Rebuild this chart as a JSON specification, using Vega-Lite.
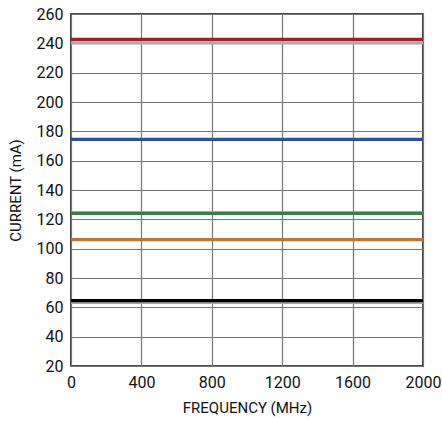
{
  "$schema": "https://vega.github.io/schema/vega-lite/v6.json",
  "width": 352,
  "height": 352,
  "autosize": {"type": "none"},
  "padding": {"left": 71, "top": 14, "right": 19, "bottom": 55},
  "background": "white",
  "config": {
    "view": {"stroke": "#111", "strokeWidth": 1.6},
    "font": "Roboto"
  },
  "data": {
    "values": [
      {"freq": 0, "current": 240.3, "series": "a_gray"},
      {"freq": 2000, "current": 240.3, "series": "a_gray"},
      {"freq": 0, "current": 242.7, "series": "b_red"},
      {"freq": 2000, "current": 242.7, "series": "b_red"},
      {"freq": 0, "current": 174.5, "series": "c_blue"},
      {"freq": 2000, "current": 174.5, "series": "c_blue"},
      {"freq": 0, "current": 124.4, "series": "d_lightgreen"},
      {"freq": 2000, "current": 124.4, "series": "d_lightgreen"},
      {"freq": 0, "current": 124.0, "series": "e_green"},
      {"freq": 2000, "current": 124.0, "series": "e_green"},
      {"freq": 0, "current": 106.2, "series": "f_orange"},
      {"freq": 2000, "current": 106.2, "series": "f_orange"},
      {"freq": 0, "current": 63.4, "series": "g_gray"},
      {"freq": 2000, "current": 63.4, "series": "g_gray"},
      {"freq": 0, "current": 64.6, "series": "h_black"},
      {"freq": 2000, "current": 64.6, "series": "h_black"}
    ]
  },
  "mark": {"type": "line", "strokeWidth": 3.2, "clip": true},
  "encoding": {
    "x": {
      "field": "freq",
      "type": "quantitative",
      "scale": {"domain": [0, 2000], "nice": false, "zero": false},
      "axis": {
        "values": [0, 400, 800, 1200, 1600, 2000],
        "format": "d",
        "title": "FREQUENCY (MHz)",
        "titleFontSize": 15,
        "titleFontWeight": "normal",
        "titleColor": "#111",
        "titlePadding": 10,
        "labelFontSize": 16,
        "labelColor": "#111",
        "labelPadding": 8,
        "labelFlush": false,
        "ticks": false,
        "domain": false,
        "grid": true,
        "gridColor": "#777",
        "gridWidth": 1.2
      }
    },
    "y": {
      "field": "current",
      "type": "quantitative",
      "scale": {"domain": [20, 260], "nice": false, "zero": false},
      "axis": {
        "values": [20, 40, 60, 80, 100, 120, 140, 160, 180, 200, 220, 240, 260],
        "format": "d",
        "title": "CURRENT (mA)",
        "titleFontSize": 15,
        "titleFontWeight": "normal",
        "titleColor": "#111",
        "titlePadding": 13,
        "labelFontSize": 16,
        "labelColor": "#111",
        "labelPadding": 8,
        "labelFlush": false,
        "ticks": false,
        "domain": false,
        "grid": true,
        "gridColor": "#777",
        "gridWidth": 1.2
      }
    },
    "color": {
      "field": "series",
      "type": "nominal",
      "scale": {
        "domain": ["a_gray", "b_red", "c_blue", "d_lightgreen", "e_green", "f_orange", "g_gray", "h_black"],
        "range": ["#aaaaaa", "#a51d24", "#2f4f9f", "#7cb77e", "#3a7f47", "#c0763a", "#aaaaaa", "#000000"]
      },
      "legend": null
    }
  }
}
